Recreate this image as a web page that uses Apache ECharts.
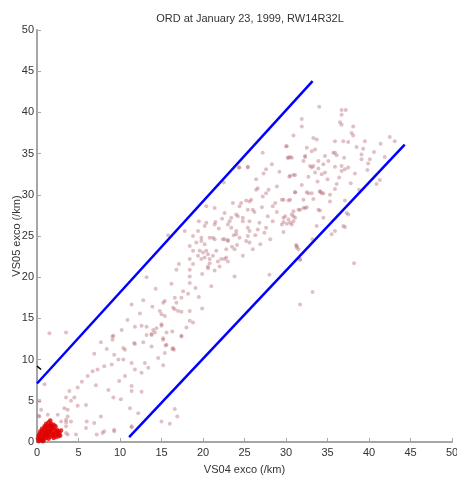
<!DOCTYPE html>
<html>
<head>
<meta charset="utf-8">
<script src="https://cdn.jsdelivr.net/npm/echarts@6/dist/echarts.min.js"></script>
<style>
  html, body { margin: 0; padding: 0; background: #fff; }
  #chart { width: 457px; height: 477px; }
</style>
</head>
<body>
<div id="chart"></div>
<script>
// tick labels
var xTicks = [0, 5, 10, 15, 20, 25, 30, 35, 40, 45, 50]
var yTicks = [0, 5, 10, 15, 20, 25, 30, 35, 40, 45, 50]

// red cluster near the origin
var nearPoints = [
  [0.2, 0.1], [0.3, 0.3], [0.4, 0.2], [0.5, 0.5], [0.6, 0.3], [0.7, 0.8], [0.8, 0.5], [0.9, 1.0],
  [1.0, 0.7], [1.1, 1.3], [1.2, 0.9], [1.3, 1.6], [1.4, 1.1], [1.5, 1.9], [1.6, 1.4], [1.7, 2.2],
  [1.8, 1.2], [1.9, 1.7], [2.0, 1.0], [2.1, 1.5], [2.2, 0.9], [2.3, 1.2], [2.5, 1.0], [2.7, 1.1],
  [2.8, 0.8], [0.3, 0.6], [0.5, 0.9], [0.6, 1.2], [0.8, 1.5], [1.0, 1.8], [1.2, 2.0], [1.4, 2.4],
  [1.6, 2.0], [1.8, 1.9], [2.0, 2.1], [1.1, 0.5], [1.3, 0.8], [1.5, 0.6], [1.7, 0.9], [1.9, 0.7],
  [2.4, 1.5], [2.6, 1.3], [0.4, 1.3], [0.9, 1.9], [1.2, 1.4], [1.5, 1.3], [1.7, 1.6], [2.2, 1.9],
  [0.2, 0.8], [0.7, 0.1], [1.0, 1.1], [1.4, 0.4], [2.0, 0.5], [0.1, 0.4], [0.6, 1.6],
  [2.9, 1.4], [2.6, 0.7], [1.6, 2.6], [0.3, 1.0], [1.1, 2.2], [2.3, 0.6], [0.8, 0.2]
]

// VS04 / VS05 pairs
var farPoints = [
  [0.2, 3.2], [0.5, 3.9],
  [1.5, 13.2], [3.5, 13.3], [9.2, 12.9], [7.7, 12.1], [11.7, 12.0], [12.6, 14.1], [13.8, 13.1], [14.2, 13.3],
  [15.0, 14.3], [6.9, 10.7], [9.3, 10.6], [10.6, 11.2], [9.8, 10.0], [10.4, 10.0], [9.0, 9.4], [8.1, 9.2],
  [7.3, 8.8], [6.7, 8.6], [6.1, 8.0], [11.4, 9.6], [11.8, 8.8], [12.6, 8.4], [13.0, 9.6], [13.4, 9.0],
  [9.9, 7.4], [10.6, 8.0], [11.4, 6.8], [11.4, 6.2], [12.6, 6.1], [0.9, 7.0], [3.9, 6.2], [4.9, 6.6],
  [4.5, 5.4], [3.5, 5.4], [4.1, 5.0], [3.3, 4.1], [3.7, 3.9], [2.5, 3.3], [3.7, 3.1], [3.5, 2.7],
  [4.1, 2.5], [2.9, 2.5], [3.5, 1.9], [2.3, 1.9], [4.9, 4.4], [9.2, 5.4], [5.9, 4.5], [11.2, 4.1],
  [7.7, 3.1], [12.2, 3.5], [6.9, 2.3], [5.9, 1.7], [9.3, 1.5], [8.1, 1.3], [11.4, 1.9], [3.7, 0.9],
  [4.7, 0.9], [0.3, 3.1], [0.3, 5.0], [1.3, 3.3], [3.5, 1.1], [7.2, 0.9], [7.9, 1.1], [9.3, 1.3],
  [11.4, 1.8], [6.0, 2.5], [3.5, 2.4],
  [16.6, 4.0], [16.9, 3.1], [15.0, 2.5], [16.0, 2.2],
  [15.6, 13.3], [16.3, 13.4], [17.4, 12.9], [15.2, 12.4], [15.5, 11.7], [16.3, 11.3], [16.5, 11.2],
  [15.4, 10.8], [15.2, 9.3], [18.8, 14.5],
  [19.5, 26.8], [20.4, 26.6], [21.5, 26.7], [23.0, 26.4], [24.0, 25.6], [23.7, 25.1], [17.8, 25.6],
  [15.8, 25.1], [19.4, 25.6], [18.8, 25.0], [19.8, 24.8], [20.8, 24.8], [21.4, 24.6], [22.6, 24.6],
  [23.0, 24.4], [19.2, 24.2], [20.2, 24.0], [18.4, 23.8], [18.8, 23.2], [19.6, 23.2], [20.0, 23.0],
  [20.4, 23.2], [20.6, 22.8], [20.2, 22.4], [19.8, 22.2], [20.8, 22.2], [21.2, 22.6], [19.4, 22.6],
  [18.4, 22.2], [18.8, 21.6], [20.6, 21.3], [21.8, 21.9], [22.6, 22.2], [23.0, 21.9], [22.8, 23.4],
  [23.8, 23.4], [16.8, 20.9], [18.4, 20.9], [18.4, 20.1], [13.2, 20.0], [18.4, 19.3], [19.1, 18.7],
  [17.6, 18.3], [18.2, 18.0], [16.6, 17.5], [17.4, 17.5], [19.5, 17.6], [12.8, 17.2], [15.4, 17.1],
  [15.2, 16.9], [16.8, 16.9], [11.4, 16.7], [16.4, 16.3], [16.6, 16.1], [17.0, 15.9], [17.4, 15.8],
  [18.4, 15.9], [14.8, 15.9], [15.0, 15.5], [15.4, 15.3], [18.4, 14.7], [10.9, 14.8], [11.8, 14.0],
  [13.2, 14.0], [14.0, 13.6], [14.4, 13.8], [15.0, 14.1], [13.2, 13.0], [13.8, 13.0], [15.2, 12.6],
  [17.4, 12.8], [12.8, 12.1], [11.8, 11.9], [16.4, 11.4], [15.6, 11.8], [9.1, 12.8], [9.1, 12.4],
  [10.4, 11.4],
  [25.4, 33.4], [24.4, 33.3], [27.6, 33.1], [30.5, 32.3], [31.1, 32.4], [32.9, 33.5], [33.5, 32.7],
  [34.3, 32.5], [22.5, 31.5], [26.4, 31.9], [26.6, 30.8], [26.4, 30.6], [27.9, 30.6], [28.9, 31.0],
  [27.6, 30.2], [27.2, 29.8], [31.1, 30.3], [32.7, 30.2], [34.1, 30.4], [34.5, 30.2], [25.8, 29.4],
  [25.6, 29.2], [25.2, 29.3], [24.6, 29.0], [23.6, 29.0], [24.4, 28.6], [25.4, 28.2], [26.0, 28.2],
  [28.4, 28.6], [28.7, 29.0], [29.7, 29.4], [30.5, 29.4], [31.7, 28.2], [32.3, 28.4], [33.9, 28.2],
  [20.4, 28.6], [21.4, 28.4], [22.6, 27.8], [23.4, 27.2], [24.2, 27.4], [24.8, 27.2], [24.0, 27.6],
  [23.2, 26.8], [24.8, 26.8], [25.6, 26.8], [26.8, 26.6], [27.8, 27.4], [28.4, 26.8], [29.7, 27.2],
  [30.3, 27.0], [30.9, 27.4], [30.7, 26.4], [29.5, 26.4], [21.4, 26.4], [20.2, 26.2], [23.4, 26.0],
  [25.4, 26.0], [26.6, 25.8], [27.6, 26.0], [24.0, 25.2], [25.6, 25.6], [25.4, 25.0], [22.4, 24.6],
  [21.2, 24.8], [19.8, 24.4], [23.0, 24.5], [24.4, 24.8], [25.2, 24.4], [25.6, 24.2], [26.9, 24.0],
  [28.1, 24.6], [26.0, 23.4], [24.8, 22.6], [22.8, 22.4], [22.2, 22.2], [20.8, 21.7], [20.6, 21.1],
  [22.0, 21.3], [23.8, 20.1], [31.3, 23.8], [31.5, 23.4], [28.0, 20.3], [31.7, 22.2],
  [34.0, 40.7], [36.7, 40.3], [37.2, 40.3], [36.7, 39.7], [31.9, 39.2], [36.5, 38.8], [36.7, 38.5],
  [31.9, 38.3], [38.1, 38.3], [37.9, 37.5], [38.1, 37.2], [30.9, 37.2], [33.3, 36.9], [33.7, 36.7],
  [35.9, 36.5], [36.9, 36.5], [37.5, 36.4], [39.5, 36.5], [42.5, 37.0], [43.1, 36.5], [41.4, 36.2],
  [30.0, 35.9], [38.5, 35.8], [39.3, 35.6], [32.5, 35.7], [33.5, 35.5], [33.1, 35.3], [35.7, 35.1],
  [36.1, 34.8], [37.0, 34.5], [39.1, 34.9], [39.1, 34.3], [40.1, 34.3], [39.9, 33.8], [30.3, 34.5],
  [30.7, 34.5], [32.3, 34.7], [32.1, 34.1], [34.7, 34.7], [33.9, 34.1], [35.1, 34.1], [34.5, 33.7],
  [33.3, 33.5], [33.9, 33.2], [33.1, 33.3], [35.9, 33.4], [36.7, 33.5], [37.1, 33.1], [37.5, 33.3],
  [36.7, 32.9], [34.7, 32.7], [30.9, 32.4], [30.4, 32.2], [32.7, 32.2], [41.3, 31.8], [40.9, 31.3],
  [36.1, 31.3], [35.9, 30.7], [31.1, 30.3], [32.5, 30.3], [33.1, 30.2], [34.1, 30.4], [34.3, 30.2],
  [35.3, 30.0], [33.3, 29.5], [32.1, 29.4], [35.3, 29.2], [37.1, 29.3], [30.3, 29.3], [29.5, 29.4],
  [32.5, 28.5], [32.1, 28.4], [31.5, 28.2], [30.9, 28.0], [34.1, 28.1], [30.7, 27.6], [31.1, 27.2],
  [29.9, 27.4], [34.5, 27.2], [37.5, 27.6], [30.5, 26.6], [33.7, 26.2], [36.9, 26.2], [37.3, 27.8],
  [29.7, 26.7], [30.1, 26.5], [30.9, 26.8], [29.7, 25.5], [35.9, 25.6], [35.5, 25.2], [37.1, 26.1],
  [33.2, 24.6], [31.2, 23.9], [31.3, 23.6], [31.7, 22.1], [38.2, 21.7], [33.2, 18.2], [31.7, 16.7],
  [27.2, 35.1], [30.1, 35.9], [30.2, 34.5], [25.4, 33.3], [24.3, 33.3], [30.5, 34.6], [32.3, 34.6],
  [35.9, 35.1],
  [21.9, 25.9], [22.3, 27.1], [26.2, 27.9], [27.1, 28.5], [28.9, 27.9], [26.3, 25.1], [27.4, 25.4],
  [23.5, 23.7], [21.6, 23.2], [24.1, 23.9], [27.3, 32.6], [29.2, 32.8], [28.3, 33.7], [31.9, 31.2],
  [33.8, 31.6], [35.0, 31.9], [36.4, 32.1], [38.3, 32.6], [39.8, 33.0], [40.6, 35.2], [41.9, 34.6],
  [38.8, 30.6], [37.8, 31.4], [19.9, 20.4], [21.4, 20.8], [17.1, 21.6], [16.2, 19.2], [14.3, 18.6],
  [13.9, 16.4], [12.4, 15.6], [10.2, 13.6], [8.4, 11.3], [7.1, 6.9], [5.4, 7.3], [8.6, 6.3],
  [10.1, 5.2], [13.8, 11.6], [14.6, 10.2], [18.0, 13.9], [19.9, 16.2], [21.0, 18.9]
]

// the two blue limit lines and the small black mark
var upperLine = [[0, 7.1], [33.2, 43.8]]
var lowerLine = [[11.1, 0.6], [44.3, 36.1]]
var blackMark = [[0, 9.2], [0.5, 8.8]]

var axisGray = '#a6a6a6'
var textGray = '#333'

var option = {
  backgroundColor: '#fff',
  animation: false,
  title: {
    text: 'ORD at January 23, 1999, RW14R32L',
    left: 245,
    top: 8,
    textAlign: 'center',
    textStyle: { fontSize: 11, fontWeight: 'normal', color: textGray, fontFamily: 'Liberation Sans' }
  },
  grid: { left: 37, right: 5, top: 30, bottom: 35, outerBoundsMode: 'none', containLabel: false },
  xAxis: {
    type: 'value',
    min: 0,
    max: 50,
    interval: 5,
    name: 'VS04 exco (/km)',
    nameLocation: 'middle',
    nameGap: 22,
    nameMoveOverlap: false,
    nameTextStyle: { fontSize: 11, color: textGray, fontFamily: 'Liberation Sans' },
    axisLine: { show: true, lineStyle: { color: axisGray, width: 2 } },
    axisTick: { show: true, inside: true, length: 4, lineStyle: { color: axisGray } },
    axisLabel: {
      color: textGray, fontSize: 11, margin: 5, fontFamily: 'Liberation Sans',
      formatter: function (v) { return xTicks.indexOf(v) >= 0 ? String(v) : '' }
    },
    splitLine: { show: false }
  },
  yAxis: {
    type: 'value',
    min: 0,
    max: 50,
    interval: 5,
    name: 'VS05 exco (/km)',
    nameLocation: 'middle',
    nameGap: 15,
    nameMoveOverlap: false,
    nameTextStyle: { fontSize: 11, color: textGray, fontFamily: 'Liberation Sans' },
    axisLine: { show: true, lineStyle: { color: axisGray, width: 2 } },
    axisTick: { show: true, inside: true, length: 4, lineStyle: { color: axisGray } },
    axisLabel: {
      color: textGray, fontSize: 11, margin: 3, fontFamily: 'Liberation Sans',
      formatter: function (v) { return yTicks.indexOf(v) >= 0 ? String(v) : '' }
    },
    splitLine: { show: false }
  },
  series: [{
    type: 'scatter',
    data: farPoints,
    symbolSize: 4,
    itemStyle: { color: 'rgba(175, 100, 110, 0.5)' },
    z: 2
  }, {
    type: 'scatter',
    data: nearPoints,
    symbolSize: 4.5,
    itemStyle: { color: '#e00000' },
    z: 3
  }, {
    type: 'line',
    data: upperLine,
    showSymbol: false,
    lineStyle: { color: '#0000ff', width: 2.5 },
    z: 4
  }, {
    type: 'line',
    data: lowerLine,
    showSymbol: false,
    lineStyle: { color: '#0000ff', width: 2.5 },
    z: 4
  }, {
    type: 'line',
    data: blackMark,
    showSymbol: false,
    lineStyle: { color: '#000', width: 1.5 },
    z: 4
  }]
}

var myChart = echarts.init(document.getElementById('chart'))
myChart.setOption(option)
</script>
</body>
</html>
